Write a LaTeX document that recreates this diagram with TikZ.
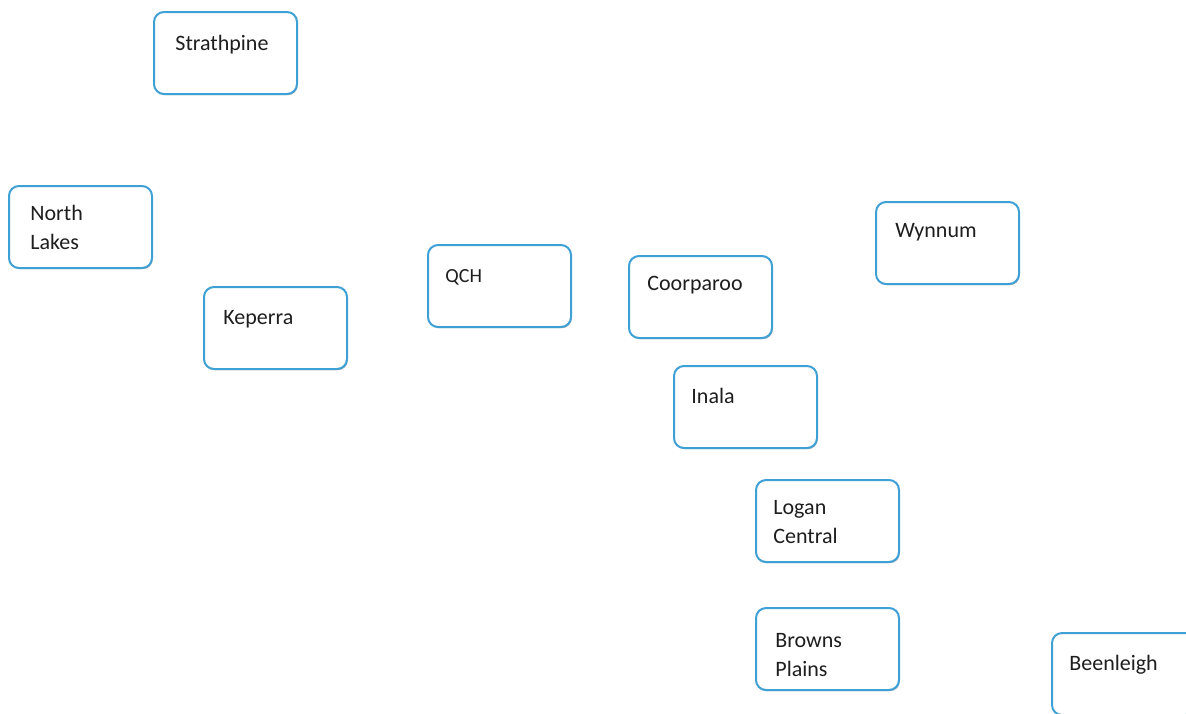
\documentclass[tikz,border=0pt]{standalone}
\usepackage{fontspec}
\setmainfont{Carlito}
\usetikzlibrary{shadows}
\definecolor{boxblue}{RGB}{62,160,212}
\definecolor{inkgray}{RGB}{30,30,30}
\tikzset{
  site/.style={draw=boxblue, line width=1pt, rounded corners=5pt, fill=white,
    minimum width=71.5pt, minimum height=41pt, anchor=north west, inner sep=0pt,
    drop shadow={shadow xshift=0.4pt, shadow yshift=-0.6pt, opacity=0.45, fill=black!70}},
  sitename/.style={anchor=west, inner sep=0pt, text=inkgray, align=left,
    font=\fontsize{11}{14.5}\selectfont},
}
\begin{document}
\begin{tikzpicture}[x=0.5pt, y=-0.5pt]
\useasboundingbox (0,0) rectangle (1186,713);

% boxes
\node[site] (strathpine) at (153,11) {};
\node[site] (northlakes) at (8,185) {};
\node[site] (keperra) at (203,286) {};
\node[site] (qch) at (427,244) {};
\node[site] (coorparoo) at (628,255) {};
\node[site] (wynnum) at (875,201) {};
\node[site] (inala) at (673,365) {};
\node[site] (logan) at (755,479) {};
\node[site] (browns) at (755,607) {};
\node[site] (beenleigh) at (1051,632) {};

% names
\node[sitename] (strathpine-t) at (175,45) {Strathpine};
\node[sitename] (northlakes-t) at (30,227.5) {North\\Lakes};
\node[sitename] (keperra-t) at (223,319) {Keperra};
\node[sitename, font=\fontsize{10}{12}\selectfont] (qch-t) at (445,277) {QCH};
\node[sitename] (coorparoo-t) at (647,285) {Coorparoo};
\node[sitename] (wynnum-t) at (895,232) {Wynnum};
\node[sitename] (inala-t) at (691,396) {Inala};
\node[sitename] (logan-t) at (773,522.5) {Logan\\Central};
\node[sitename] (browns-t) at (775,655.5) {Browns\\Plains};
\node[sitename] (beenleigh-t) at (1069,665) {Beenleigh};
\end{tikzpicture}
\end{document}
